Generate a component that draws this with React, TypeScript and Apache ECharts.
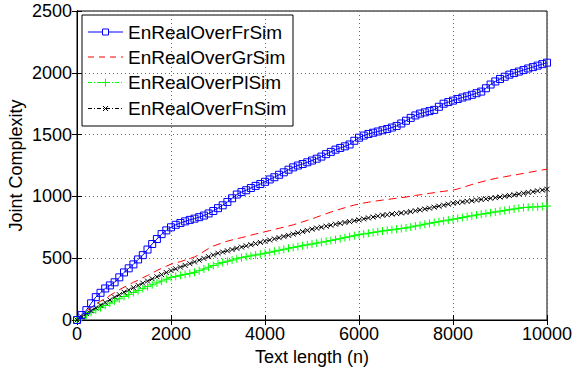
import React, { useEffect, useRef } from "react";
import * as echarts from "echarts";

const textLength: number[] = Array.from({ length: 101 }, (_, i) => i * 100);

const frSim: number[] = [
  0, 40, 80, 135, 185, 220, 255, 280, 305, 345, 385,
  418, 450, 490, 525, 570, 615, 655, 695, 725, 750,
  770, 785, 798, 810, 820, 832, 845, 862, 882, 905,
  928, 955, 985, 1015, 1035, 1050, 1068, 1085, 1100, 1118,
  1137, 1155, 1175, 1195, 1216, 1235, 1250, 1262, 1276, 1290,
  1305, 1322, 1342, 1360, 1378, 1392, 1405, 1420, 1450, 1475,
  1492, 1505, 1515, 1525, 1535, 1545, 1557, 1570, 1590, 1612,
  1635, 1655, 1670, 1680, 1690, 1700, 1725, 1750, 1763, 1775,
  1788, 1800, 1810, 1822, 1835, 1848, 1875, 1905, 1930, 1950,
  1968, 1985, 1998, 2010, 2022, 2035, 2046, 2058, 2070, 2082,
];

const grSim: number[] = [
  0, 35, 70, 100, 128, 152, 175, 198, 222, 245, 265,
  285, 305, 322, 342, 360, 380, 400, 418, 435, 452,
  462, 472, 485, 497, 510, 530, 555, 578, 598, 612,
  625, 638, 648, 658, 666, 676, 686, 696, 705, 714,
  723, 732, 742, 751, 760, 770, 782, 794, 806, 818,
  832, 846, 860, 873, 885, 897, 909, 920, 930, 938,
  946, 953, 959, 965, 970, 975, 980, 985, 990, 995,
  1002, 1008, 1013, 1019, 1025, 1030, 1036, 1041, 1046, 1051,
  1060, 1072, 1084, 1096, 1107, 1117, 1127, 1136, 1145, 1152,
  1159, 1166, 1172, 1179, 1186, 1193, 1200, 1207, 1214, 1220,
];

const plSim: number[] = [
  0, 20, 42, 62, 82, 100, 118, 136, 154, 172, 190,
  206, 222, 238, 254, 270, 285, 300, 315, 330, 345,
  353, 361, 369, 377, 385, 399, 413, 427, 441, 455,
  465, 475, 485, 495, 505, 512, 519, 526, 533, 540,
  548, 556, 564, 572, 580, 587, 594, 601, 608, 615,
  622, 629, 636, 643, 650, 658, 666, 674, 682, 690,
  696, 702, 708, 714, 720, 725, 730, 735, 740, 745,
  752, 760, 767, 775, 782, 789, 795, 802, 808, 815,
  822, 829, 836, 843, 850, 856, 862, 868, 874, 880,
  886, 892, 898, 904, 910, 912, 914, 916, 919, 922,
];

const fnSim: number[] = [
  0, 25, 52, 75, 98, 120, 142, 163, 185, 205, 225,
  243, 262, 280, 298, 315, 333, 350, 367, 384, 400,
  414, 428, 442, 456, 470, 484, 498, 512, 526, 540,
  550, 560, 570, 580, 590, 600, 609, 618, 628, 637,
  647, 656, 666, 676, 685, 695, 705, 715, 725, 735,
  743, 751, 759, 767, 775, 782, 789, 796, 803, 810,
  818, 826, 833, 841, 848, 852, 857, 861, 866, 870,
  877, 884, 891, 898, 905, 913, 921, 929, 937, 945,
  950, 955, 960, 965, 970, 975, 980, 985, 990, 995,
  1001, 1007, 1013, 1019, 1025, 1032, 1038, 1045, 1051, 1058,
];

const seriesNames = ["EnRealOverFrSim", "EnRealOverGrSim", "EnRealOverPlSim", "EnRealOverFnSim"];

const FONT = "'Liberation Sans', Arial, Helvetica, sans-serif";

function pairs(ys: number[]): number[][] {
  return ys.map((y, i) => [textLength[i], y]);
}

function legendGraphic() {
  const rowsY = [32, 57, 82.5, 108.5];
  const colors = ["#0000ff", "#ff0000", "#00ff00", "#000000"];
  const dashes: (number[] | null)[] = [null, [6, 5], [4, 2, 1, 2], [4, 2, 1, 2]];
  const x0 = 88;
  const x1 = 123;
  const mx = 105.5;
  const children: any[] = [
    {
      type: "rect",
      shape: { x: 82, y: 15, width: 211, height: 111 },
      style: { fill: "#fff", stroke: "#000", lineWidth: 1 },
    },
  ];
  rowsY.forEach((y, i) => {
    const c = colors[i];
    children.push({
      type: "line",
      shape: { x1: x0, y1: y, x2: x1, y2: y },
      style: { stroke: c, lineWidth: 1, lineDash: dashes[i] || undefined },
    });
    if (i === 0) {
      children.push({
        type: "rect",
        shape: { x: mx - 3, y: y - 3, width: 6, height: 6 },
        style: { fill: "#fff", stroke: c, lineWidth: 1 },
      });
    } else if (i === 2) {
      children.push({ type: "line", shape: { x1: mx - 4, y1: y, x2: mx + 4, y2: y }, style: { stroke: c, lineWidth: 1 } });
      children.push({ type: "line", shape: { x1: mx, y1: y - 4, x2: mx, y2: y + 4 }, style: { stroke: c, lineWidth: 1 } });
    } else if (i === 3) {
      children.push({ type: "line", shape: { x1: mx - 2.5, y1: y - 2.5, x2: mx + 2.5, y2: y + 2.5 }, style: { stroke: c, lineWidth: 1 } });
      children.push({ type: "line", shape: { x1: mx - 2.5, y1: y + 2.5, x2: mx + 2.5, y2: y - 2.5 }, style: { stroke: c, lineWidth: 1 } });
    }
    children.push({
      type: "text",
      x: 128,
      y: y,
      style: {
        text: seriesNames[i],
        fill: "#000",
        font: `19px ${FONT}`,
        textVerticalAlign: "middle",
        verticalAlign: "middle",
        textAlign: "left",
      },
    });
  });
  return [{ type: "group", z: 100, children }];
}

export default function App() {
  const ref = useRef<HTMLDivElement>(null);
  useEffect(() => {
    if (!ref.current) return;
    const chart = echarts.init(ref.current, null, { renderer: "svg" });
    const tick = { show: true, inside: true, length: 5, lineStyle: { color: "#000" } };
    const plain = (v: number) => String(v);
    chart.setOption({
      animation: false,
      backgroundColor: "#fff",
      textStyle: { fontFamily: FONT },
      grid: {
        left: 77,
        right: 27,
        top: 11,
        bottom: 47,
        containLabel: false,
        outerBoundsMode: "none",
        show: true,
        borderColor: "#000",
        borderWidth: 1,
        backgroundColor: "#fff",
      },
      graphic: legendGraphic(),
      xAxis: [
        {
          type: "value",
          min: 0,
          max: 10000,
          interval: 2000,
          name: "Text length (n)",
          nameLocation: "middle",
          nameGap: 24,
          nameTextStyle: { fontSize: 18, color: "#000", fontFamily: FONT },
          axisLine: { show: true, lineStyle: { color: "#000" } },
          axisTick: tick,
          axisLabel: { fontSize: 18, color: "#000", margin: 5, fontFamily: FONT, formatter: plain },
          splitLine: { show: true, lineStyle: { color: "#666", type: [1, 3], width: 1 } },
        },
        {
          type: "value",
          position: "top",
          min: 0,
          max: 10000,
          interval: 2000,
          axisLine: { show: true, lineStyle: { color: "#000" } },
          axisTick: tick,
          axisLabel: { show: false },
          splitLine: { show: false },
        },
      ],
      yAxis: [
        {
          type: "value",
          min: 0,
          max: 2500,
          interval: 500,
          name: "Joint Complexity",
          nameLocation: "middle",
          nameGap: 52,
          nameMoveOverlap: false,
          nameTextStyle: { fontSize: 18, color: "#000", fontFamily: FONT },
          axisLine: { show: true, lineStyle: { color: "#000" } },
          axisTick: tick,
          axisLabel: { fontSize: 18, color: "#000", margin: 5, fontFamily: FONT, formatter: plain },
          splitLine: { show: true, lineStyle: { color: "#666", type: [1, 3], width: 1 } },
        },
        {
          type: "value",
          position: "right",
          min: 0,
          max: 2500,
          interval: 500,
          axisLine: { show: true, lineStyle: { color: "#000" } },
          axisTick: tick,
          axisLabel: { show: false },
          splitLine: { show: false },
        },
      ],
      series: [
        {
          name: seriesNames[0],
          type: "line",
          data: pairs(frSim),
          symbol: "rect",
          symbolSize: 7,
          showAllSymbol: true,
          lineStyle: { color: "#0000ff", width: 1 },
          itemStyle: { color: "rgba(0,0,0,0)", borderColor: "#0000ff", borderWidth: 1 },
          z: 4,
        },
        {
          name: seriesNames[1],
          type: "line",
          data: pairs(grSim),
          symbol: "none",
          lineStyle: { color: "#ff0000", width: 1, type: [8, 5] },
          itemStyle: { color: "#ff0000" },
          z: 3,
        },
        {
          name: seriesNames[2],
          type: "line",
          data: pairs(plSim),
          symbol: "path://M5,0L5,10M0,5L10,5",
          symbolSize: 8,
          showAllSymbol: true,
          lineStyle: { color: "#00ff00", width: 1, type: [4, 2, 1, 2] },
          itemStyle: { color: "rgba(0,0,0,0)", borderColor: "#00ff00", borderWidth: 1 },
          z: 2,
        },
        {
          name: seriesNames[3],
          type: "line",
          data: pairs(fnSim),
          symbol: "path://M0,0L10,10M10,0L0,10",
          symbolSize: 5,
          showAllSymbol: true,
          lineStyle: { color: "#000000", width: 1, type: [4, 2, 1, 2] },
          itemStyle: { color: "rgba(0,0,0,0)", borderColor: "#000000", borderWidth: 1 },
          z: 3,
        },
      ],
    });
    return () => chart.dispose();
  }, []);
  return <div ref={ref} style={{ width: 574, height: 367, position: "absolute", left: 0, top: 0 }} />;
}
